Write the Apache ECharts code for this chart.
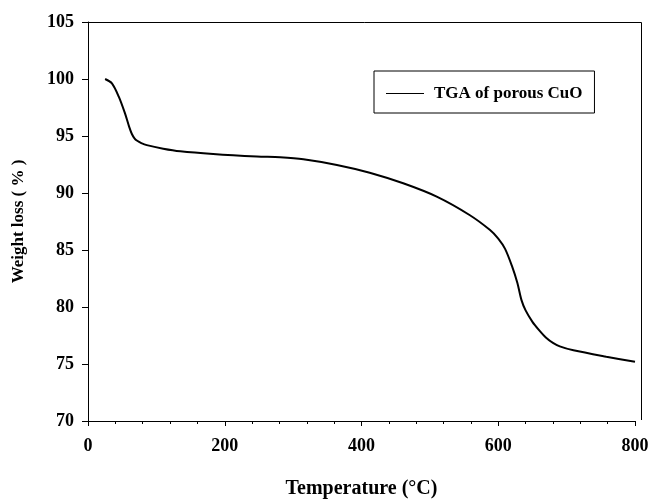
<!DOCTYPE html>
<html><head><meta charset="utf-8">
<script src="https://cdn.jsdelivr.net/npm/echarts@6/dist/echarts.min.js"></script>
<style>html,body{margin:0;padding:0;background:#fff}#c{width:648px;height:499px}</style>
</head><body><div id="c"></div>
<script>
const temperature = [25, 35, 45, 54, 60, 64, 68, 72, 78, 86, 110, 135, 183, 247, 281, 315, 364, 412, 461, 510, 558, 588, 600, 610, 620, 628, 634, 640, 650, 660, 670, 680, 690, 710, 758, 800];
const weight = [100, 99.62, 98.45, 97.0, 95.85, 95.2, 94.8, 94.58, 94.38, 94.2, 93.89, 93.66, 93.42, 93.2, 93.13, 92.96, 92.46, 91.78, 90.85, 89.68, 88.07, 86.75, 86.0, 85.1, 83.6, 82.1, 80.6, 79.7, 78.7, 77.95, 77.3, 76.85, 76.55, 76.2, 75.64, 75.2];
const seriesName = 'TGA of porous CuO';
const xTitle = 'Temperature (°C)';
const yTitle = 'Weight loss ( % )';

const font = 'Liberation Serif, Times New Roman, serif';
const chart = echarts.init(document.getElementById('c'));
chart.setOption({
  animation: false,
  backgroundColor: '#fff',
  grid: {left: 88, top: 22, width: 547, height: 399, containLabel: false, outerBoundsMode: 'none'},
  legend: {
    left: 374, top: 71,
    orient: 'horizontal',
    borderColor: '#000', borderWidth: 1,
    padding: [14, 12, 11, 12],
    itemWidth: 38, itemHeight: 16, itemGap: 9,
    icon: 'path://M0,7.5L38,7.5L38,8.5L0,8.5Z',
    textStyle: {fontFamily: font, fontWeight: 'bold', fontSize: 17, color: '#000', padding: [0, 0, 0, 5]},
    data: [{name: seriesName, itemStyle: {color: '#000'}}]
  },
  xAxis: {
    type: 'value', min: 0, max: 800, interval: 200,
    name: xTitle, nameLocation: 'middle', nameGap: 58,
    nameTextStyle: {fontFamily: font, fontWeight: 'bold', fontSize: 20, color: '#000'},
    axisLine: {show: true, lineStyle: {color: '#000', width: 1}},
    axisTick: {show: true, inside: false, length: 5, lineStyle: {color: '#000'}},
    minorTick: {show: true, splitNumber: 5, length: 3, lineStyle: {color: '#000'}},
    splitLine: {show: false},
    axisLabel: {margin: 16, fontFamily: font, fontWeight: 'bold', fontSize: 18, color: '#000'}
  },
  yAxis: {
    type: 'value', min: 70, max: 105, interval: 5,
    name: yTitle, nameLocation: 'middle', nameGap: 61, nameRotate: 90,
    nameTextStyle: {fontFamily: font, fontWeight: 'bold', fontSize: 17, color: '#000'},
    axisLine: {show: true, lineStyle: {color: '#000', width: 1}},
    axisTick: {show: true, inside: false, length: 6, lineStyle: {color: '#000'}},
    splitLine: {show: false},
    axisLabel: {margin: 14, fontFamily: font, fontWeight: 'bold', fontSize: 18, color: '#000'}
  },
  graphic: [{
    type: 'polyline', silent: true,
    shape: {points: [[88, 22.5], [641.5, 22.5], [641.5, 420]]},
    style: {stroke: '#000', lineWidth: 1, fill: null}
  }],
  series: [{
    name: seriesName, type: 'line', smooth: 0.3, showSymbol: false,
    lineStyle: {color: '#000', width: 2},
    itemStyle: {color: '#000'},
    data: temperature.map((t, i) => [t, weight[i]])
  }]
});
</script></body></html>
